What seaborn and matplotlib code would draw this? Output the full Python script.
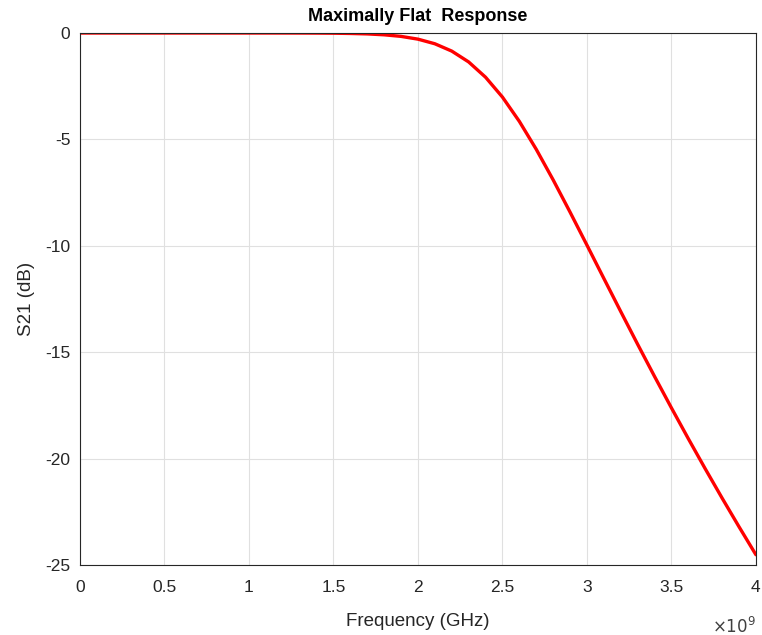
import numpy as np
import pandas as pd
import matplotlib
matplotlib.use("Agg")
import matplotlib.pyplot as plt
import matplotlib.ticker as mticker
import seaborn as sns

# frequency in GHz, S21 in dB
freq_ghz = [0.0, 0.1, 0.2, 0.3, 0.4, 0.5, 0.6, 0.7, 0.8, 0.9,
            1.0, 1.1, 1.2, 1.3, 1.4, 1.5, 1.6, 1.7, 1.8, 1.9,
            2.0, 2.1, 2.2, 2.3, 2.4, 2.5, 2.6, 2.7, 2.8, 2.9,
            3.0, 3.1, 3.2, 3.3, 3.4, 3.5, 3.6, 3.7, 3.8, 3.9, 4.0]
s21_db = [0.0, 0.0, 0.0, 0.0, 0.0, 0.0, 0.0, 0.0, 0.0, 0.0,
          0.0, -0.0001, -0.0004, -0.0015, -0.004, -0.009, -0.021, -0.042, -0.084, -0.158,
          -0.288, -0.505, -0.849, -1.359, -2.076, -3.010, -4.151, -5.463, -6.898, -8.412,
          -9.964, -11.528, -13.084, -14.622, -16.132, -17.611, -19.058, -20.471, -21.850, -23.196, -24.510]

df = pd.DataFrame({"f": np.array(freq_ghz) * 1e9, "s21": s21_db})

sns.set_style("whitegrid")
plt.rcParams["font.family"] = ["Liberation Sans", "DejaVu Sans"]
plt.rcParams["axes.unicode_minus"] = False

fig = plt.figure(figsize=(7.62, 6.35), dpi=100)
ax = fig.add_axes([0.105, 0.110, 0.887, 0.838])
sns.lineplot(x="f", y="s21", data=df, color="red", linewidth=2.4, ax=ax)

ax.set_xlim(0, 4e9)
ax.set_ylim(-25, 0)
ax.set_xticks(np.arange(0, 4.01e9, 0.5e9))
ax.set_yticks([-25, -20, -15, -10, -5, 0])
ax.xaxis.set_major_formatter(mticker.FuncFormatter(lambda v, p: f"{v / 1e9:g}"))
ax.yaxis.set_major_formatter(mticker.FuncFormatter(lambda v, p: f"{v:g}"))
ax.text(1.0, -0.095, r"$\times10^{9}$", transform=ax.transAxes, ha="right", va="top",
        fontsize=12, color="#404040")

ax.grid(True, color="#e0e0e0", linewidth=0.8)
for s in ax.spines.values():
    s.set_visible(True)
    s.set_color("#262626")
    s.set_linewidth(0.8)
ax.tick_params(axis="both", labelsize=12.5, colors="#262626", direction="in", length=4)
ax.tick_params(axis="x", pad=11)
ax.tick_params(axis="y", pad=7)

ax.set_xlabel("Frequency (GHz)", fontsize=13.5, color="#262626", labelpad=13)
ax.set_ylabel("S21 (dB)", fontsize=13.5, color="#262626", labelpad=7)
ax.set_title("Maximally Flat  Response", fontsize=13, fontweight="bold", color="black", pad=9)

fig.savefig("out.png", dpi=100)
